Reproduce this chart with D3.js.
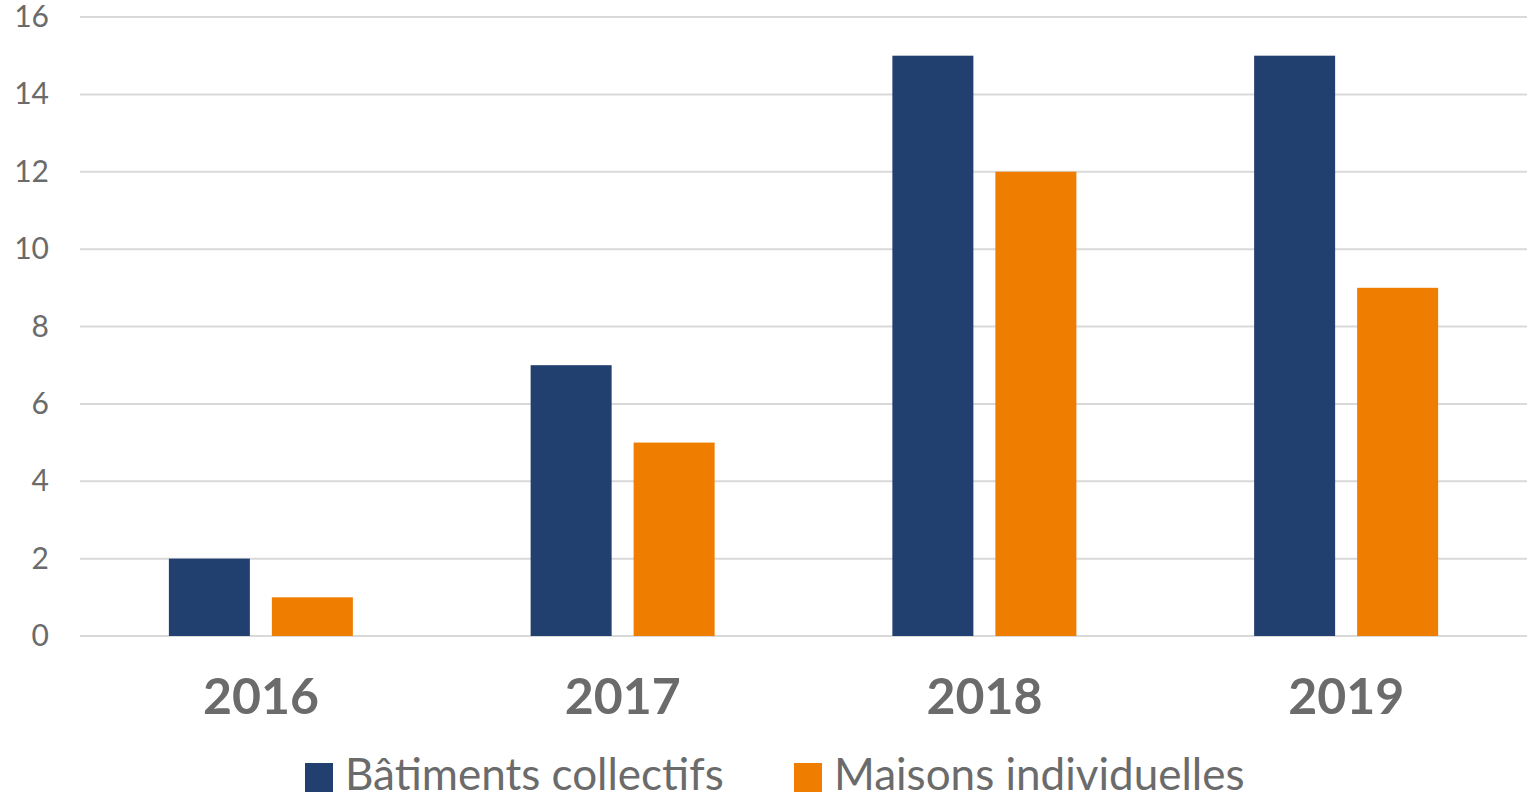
<!DOCTYPE html>
<html><head><meta charset="utf-8">
<script src="https://cdn.jsdelivr.net/npm/d3@7"></script>
<style>body{margin:0;background:#fff;} svg{display:block;}</style>
</head><body>
<svg id="c" width="1530" height="799"></svg>
<script>
const categories = ["2016","2017","2018","2019"];
const seriesNames = ["Bâtiments collectifs","Maisons individuelles"];
const batiments = [2,7,15,15];
const maisons = [1,5,12,9];
const yTicks = [0,2,4,6,8,10,12,14,16];
const colors = ["#21406f","#ef7d00"];

const svg = d3.select("#c");
const font = "Lato, 'Noto Sans', sans-serif";
const x0 = d3.scaleBand().domain(categories).range([80,1527]);
const y = d3.scaleLinear().domain([0,16]).range([636,17]);
const x1 = d3.scaleBand().domain([0,1]).range([0,184]).paddingInner(22/103);

// gridlines
svg.append("g").selectAll("line").data(yTicks).join("line")
  .attr("x1",80).attr("x2",1527)
  .attr("y1",d=>y(d)).attr("y2",d=>y(d))
  .attr("stroke","#d9d9d9").attr("stroke-width",2);

// y axis labels
const yAxis = d3.axisLeft(y).tickValues(yTicks).tickSize(0).tickPadding(0);
const ga = svg.append("g").attr("transform","translate(49,0)").call(yAxis);
ga.select(".domain").remove();
ga.selectAll("text").attr("font-family",font).attr("font-size",30).attr("fill","#6b6b6b");

// bars
const data = categories.map((c,i)=>({c, vals:[batiments[i],maisons[i]]}));
const g = svg.append("g");
data.forEach(d=>{
  const cx = x0(d.c)+x0.bandwidth()/2 - 92;
  g.selectAll(null).data(d.vals).join("rect")
    .attr("x",(v,j)=>cx+x1(j)).attr("width",x1.bandwidth())
    .attr("y",v=>y(v)).attr("height",v=>y(0)-y(v))
    .attr("fill",(v,j)=>colors[j]);
});

// x labels
const xAxis = d3.axisBottom(x0).tickSize(0).tickPadding(0);
const gx = svg.append("g").attr("transform","translate(0,678)").call(xAxis);
gx.select(".domain").remove();
gx.selectAll("text").attr("font-family",font).attr("font-size",50).attr("font-weight","bold").attr("fill","#6b6b6b").attr("dy","0.71em");

// legend
const legX = [305,794];
const lg = svg.append("g");
seriesNames.forEach((n,i)=>{
  lg.append("rect").attr("x",legX[i]).attr("y",763).attr("width",28).attr("height",29).attr("fill",colors[i]);
  lg.append("text").attr("x",legX[i]+40).attr("y",790).text(n)
    .attr("font-family",font).attr("font-size",44).attr("fill","#6b6b6b");
});
</script>
</body></html>
